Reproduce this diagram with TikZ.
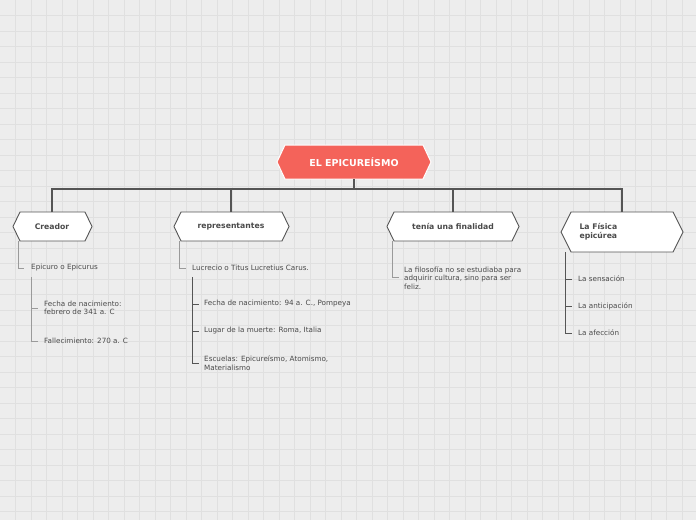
\documentclass[tikz,border=0pt]{standalone}
\usepackage{fontspec}
\setmainfont{DejaVu Sans}
\definecolor{bg}{HTML}{EDEDED}
\definecolor{gridc}{HTML}{E0E0E0}
\definecolor{red1}{HTML}{F4635A}
\definecolor{txt}{HTML}{4A4A4A}
\definecolor{con}{HTML}{555555}
\definecolor{sub}{HTML}{9A9A9A}
\begin{document}
\begin{tikzpicture}[x=1pt,y=-1pt,
  hexb/.style={draw=con,fill=white,line width=0.9pt},
  main/.style={draw=con,line width=1.1pt},
  subl/.style={draw=sub,line width=0.8pt},
  lbl/.style={font=\fontsize{7.7}{9.2}\selectfont\bfseries,text=txt,align=left},
  itm/.style={font=\fontsize{7.2}{8.6}\selectfont,text=txt,align=left,anchor=west,inner sep=0pt}]
\useasboundingbox (0,0) rectangle (696,520);
\fill[bg] (0,0) rectangle (696,520);
\foreach \i in {1,...,44} {\draw[gridc,line width=0.5pt] (\i*15.5,0)--(\i*15.5,520);}
\foreach \i in {1,...,33} {\draw[gridc,line width=0.5pt] (0,\i*15.5)--(696,\i*15.5);}
% central
\draw[draw=white,fill=red1,line width=1pt] (277,162)--(285,145)--(423,145)--(431,162)--(423,179)--(285,179)--cycle;
\node[font=\fontsize{9.5}{11}\selectfont\bfseries,text=white] (c) at (354,162) {EL EPICUREÍSMO};
% branch hexagons
\draw[hexb] (13,226.5)--(20,212)--(85,212)--(92,226.5)--(85,241)--(20,241)--cycle;
\node[lbl] (a) at (52,226.5) {Creador};
\draw[hexb] (174,226.5)--(181,212)--(282,212)--(289,226.5)--(282,241)--(181,241)--cycle;
\node[lbl] (b) at (231,226.5) {representantes};
\draw[hexb] (387,226.5)--(394,212)--(512,212)--(519,226.5)--(512,241)--(394,241)--cycle;
\node[lbl] (d) at (453,226.5) {tenía una finalidad};
\draw[hexb] (561,232)--(571,212)--(673,212)--(683,232)--(673,252)--(571,252)--cycle;
\node[lbl,anchor=west] (e) at (576,232) {La Física\\epicúrea};
% connectors
\coordinate (cb) at (354,179);
\draw[main] (cb)--(354,189);
\draw[main] (52,212)--(52,189)--(622,189)--(622,212);
\draw[main] (231,189)--(231,212);
\draw[main] (453,189)--(453,212);
% Creador subitems
\node[itm] (a1) at (31,268) {Epicuro o Epicurus};
\draw[subl] (18,241)--(18,268)--(24,268);
\node[itm] (a2) at (44,308) {Fecha de nacimiento:\\febrero de 341 a. C};
\node[itm] (a3) at (44,341) {Fallecimiento: 270 a. C};
\draw[subl] (31,277)--(31,341)--(38,341);
\draw[subl] (31,308)--(38,308);
% representantes subitems
\node[itm] (b1) at (192,268) {Lucrecio o Titus Lucretius Carus.};
\draw[subl] (179,241)--(179,268)--(186,268);
\node[itm] (b2) at (204,304) {Fecha de nacimiento: 94 a. C., Pompeya};
\node[itm] (b3) at (204,331) {Lugar de la muerte: Roma, Italia};
\node[itm] (b4) at (204,363) {Escuelas: Epicureísmo, Atomismo,\\Materialismo};
\draw[subl,draw=con] (192,277)--(192,363)--(199,363);
\draw[subl,draw=con] (192,304)--(199,304);
\draw[subl,draw=con] (192,331)--(199,331);
% finalidad
\node[itm] (d1) at (404,278) {La filosofía no se estudiaba para\\adquirir cultura, sino para ser\\feliz.};
\draw[subl] (392,241)--(392,277)--(399,277);
% Fisica
\node[itm] (e1) at (578,279) {La sensación};
\node[itm] (e2) at (578,306) {La anticipación};
\node[itm] (e3) at (578,333) {La afección};
\draw[subl,draw=con] (565,252)--(565,333)--(572,333);
\draw[subl,draw=con] (565,279)--(572,279);
\draw[subl,draw=con] (565,306)--(572,306);
\end{tikzpicture}
\end{document}
